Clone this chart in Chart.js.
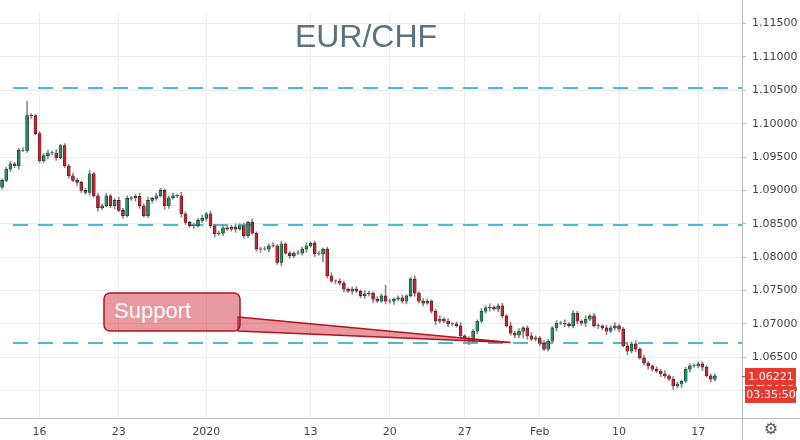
<!DOCTYPE html>
<html><head><meta charset="utf-8">
<script src="https://cdn.jsdelivr.net/npm/chart.js@4/dist/chart.umd.min.js"></script>
<style>html,body{margin:0;padding:0;background:#fff}#w{width:800px;height:440px;position:relative}</style>
</head><body><div id="w"><canvas id="c"></canvas></div>
<script>
// closes
const closes=[1.0915,1.0932,1.0940,1.0937,1.0960,1.0960,1.1012,1.1012,1.0985,1.0944,
1.0952,1.0956,1.0956,1.0949,1.0967,1.0937,1.0922,1.0915,1.0912,1.0900,
1.0897,1.0925,1.0892,1.0874,1.0877,1.0892,1.0877,1.0885,1.0870,1.0862,
1.0888,1.0889,1.0891,1.0877,1.0862,1.0885,1.0888,1.0892,1.0900,1.0877,
1.0889,1.0892,1.0892,1.0865,1.0852,1.0847,1.0847,1.0855,1.0858,1.0865,
1.0847,1.0835,1.0836,1.0844,1.0842,1.0845,1.0842,1.0847,1.0832,1.0852,
1.0836,1.0812,1.0812,1.0812,1.0817,1.0817,1.0792,1.0820,1.0806,1.0802,
1.0806,1.0806,1.0812,1.0817,1.0821,1.0805,1.0805,1.0812,1.0772,1.0764,
1.0764,1.0761,1.0752,1.0749,1.0752,1.0749,1.0742,1.0745,1.0746,1.0737,
1.0734,1.0742,1.0734,1.0734,1.0737,1.0739,1.0734,1.0742,1.0767,1.0746,
1.0734,1.0731,1.0734,1.0719,1.0704,1.0707,1.0704,1.0700,1.0700,1.0697,
1.0682,1.0677,1.0674,1.0689,1.0704,1.0719,1.0724,1.0725,1.0722,1.0727,
1.0712,1.0697,1.0686,1.0683,1.0689,1.0694,1.0682,1.0677,1.0679,1.0671,
1.0662,1.0674,1.0694,1.0701,1.0701,1.0700,1.0697,1.0716,1.0704,1.0701,
1.0707,1.0712,1.0697,1.0697,1.0694,1.0689,1.0694,1.0697,1.0692,1.0667,
1.0659,1.0670,1.0662,1.0649,1.0641,1.0637,1.0632,1.0629,1.0625,1.0622,
1.0617,1.0607,1.0610,1.0614,1.0632,1.0637,1.0637,1.0640,1.0635,1.0622,
1.0617,1.0622];
const firstOpen=1.0905;
// wick extents in pips beyond the body (base36)
const hiPips="234234m3233435232432352434235342353524323425324352423423534252343524232435234235243234253243g323423524323524235243243523425342353243243524325243243523435243243524323";
const loPips="32435234232534234253342532352423542343254235324234352423524323524235243235242c32434252343522435234253423532432535242352432344a52342335242343522435234253423532432535242352432543524234232";
const xLabels=['16','23','2020','13','20','27','Feb','10','17'];
const xTickIdx=[9,28,49,74,93,111,129,148,167];
const yTicks=[1.060,1.065,1.070,1.075,1.080,1.085,1.090,1.095,1.100,1.105,1.110,1.115];
const levels=[1.1053,1.0848,1.0672];
const supportTip={x:122,y:1.0672};
const lastPrice='1.06221', countdown='03:35:50';
const N=closes.length, SLOTS=178;

const bodies=[],wicks=[],cols=[];
for(let i=0;i<N;i++){
  const o=i?closes[i-1]:firstOpen,c=closes[i];
  const h=Math.max(o,c)+parseInt(hiPips[i]||'3',36)*0.0001;
  const l=Math.min(o,c)-parseInt(loPips[i]||'3',36)*0.0001;
  bodies.push({x:i,y:[o,c===o?c+0.00005:c]});
  wicks.push({x:i,y:[l,h]});
  cols.push(c>=o?'#1f8f5f':'#c8232c');
}
const overlay={id:'ov',
 beforeDatasetsDraw(ch){const {ctx,chartArea:a,scales:{x,y}}=ch;
  ctx.save();ctx.font='32px "Liberation Sans",Arial';ctx.fillStyle='#5b7184';ctx.textAlign='center';ctx.textBaseline='middle';
  ctx.fillText('EUR/CHF',366,38);
  ctx.strokeStyle='#45bdd6';ctx.lineWidth=2;ctx.setLineDash([15,10]);
  levels.forEach(v=>{const py=Math.round(y.getPixelForValue(v));ctx.beginPath();ctx.moveTo(13,py);ctx.lineTo(a.right,py);ctx.stroke();});
  ctx.restore();},
 afterDatasetsDraw(ch){const {ctx,chartArea:a,scales:{x,y}}=ch;
  ctx.save();
  const tx=x.getPixelForValue(supportTip.x),ty=y.getPixelForValue(supportTip.y);
  ctx.fillStyle='rgba(214,70,80,0.55)';ctx.strokeStyle='#b3141e';ctx.lineWidth=1.5;
  ctx.beginPath();ctx.moveTo(238,317);ctx.lineTo(tx,ty);ctx.lineTo(238,331);ctx.closePath();ctx.fill();ctx.stroke();
  ctx.beginPath();ctx.roundRect(104,293,136,38,6);ctx.fill();ctx.stroke();
  ctx.fillStyle='#fff';ctx.font='22px "Liberation Sans",Arial';ctx.textBaseline='middle';ctx.fillText('Support',114,312);
  ctx.strokeStyle='#bbb';ctx.lineWidth=1;ctx.beginPath();ctx.moveTo(a.right+0.5,0);ctx.lineTo(a.right+0.5,440);
  ctx.moveTo(0,a.bottom+0.5);ctx.lineTo(800,a.bottom+0.5);ctx.stroke();
  const py=y.getPixelForValue(closes[N-1]);
  ctx.fillStyle='#e8392f';ctx.fillRect(a.right+3,py-8,51,17);ctx.fillRect(a.right+3,py+10,51,17);
  ctx.fillRect(a.right,py,4,1);
  ctx.fillStyle='#fff';ctx.font='11px "DejaVu Sans"';ctx.textAlign='center';
  ctx.fillText(lastPrice,a.right+29,py+1);ctx.fillText(countdown,a.right+29,py+19);
  ctx.fillStyle='#555';ctx.font='16px "DejaVu Sans"';ctx.fillText('⚙',771,430);
  ctx.restore();}
};
new Chart(document.getElementById('c'),{
 data:{datasets:[
  {type:'bar',data:wicks,backgroundColor:'#8a8a8a',barThickness:1,grouped:false,order:2},
  {type:'bar',data:bodies,backgroundColor:cols,borderColor:'#222',borderWidth:0.6,borderSkipped:false,barThickness:3,grouped:false,order:1}
 ]},
 options:{responsive:true,maintainAspectRatio:false,animation:false,devicePixelRatio:1,
  layout:{padding:0},
  plugins:{legend:{display:false},tooltip:{enabled:false}},
  scales:{
   x:{type:'linear',min:-0.5,max:SLOTS-0.5,offset:false,
    afterBuildTicks(ax){ax.ticks=xTickIdx.map(v=>({value:v}));},
    afterFit(ax){ax.height=22;},
    grid:{color:'#ececec',drawTicks:false,offset:false},border:{display:false},
    ticks:{padding:8,color:'#444',font:{size:11,family:'DejaVu Sans'},maxRotation:0,autoSkip:false,
     callback:v=>xLabels[xTickIdx.indexOf(v)]}},
   y:{position:'right',min:1.0559,max:1.11664,
    afterBuildTicks(ax){ax.ticks=yTicks.map(v=>({value:v}));},
    afterFit(ax){ax.width=58;},
    grid:{color:'#ececec',drawTicks:true,tickLength:4,tickColor:'#bbb'},border:{display:false},
    ticks:{padding:6,color:'#444',font:{size:11,family:'DejaVu Sans'},callback:v=>v.toFixed(5)}}
  }},
 plugins:[overlay]});
</script></body></html>
